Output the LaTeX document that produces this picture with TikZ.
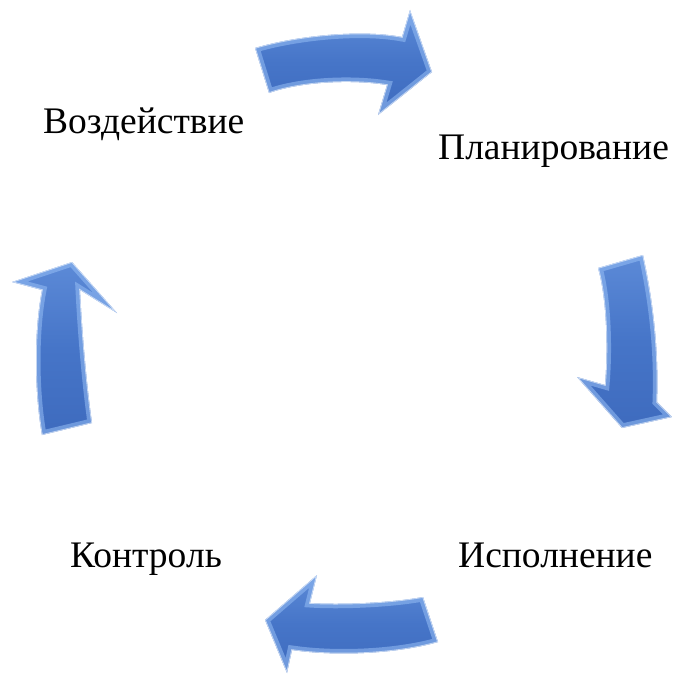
\documentclass[tikz,border=0pt]{standalone}
\usepackage{fontspec}
\setmainfont{Liberation Serif}
\definecolor{arrowmain}{RGB}{70,117,200}
\definecolor{arrowlight}{RGB}{92,138,215}
\definecolor{arrowdark}{RGB}{62,107,190}
\definecolor{bevel}{RGB}{150,190,245}
\tikzset{
  lbl/.style={anchor=base west, inner sep=0pt, font=\fontsize{37.5}{40}\selectfont},
}
\newcommand{\toparrowpath}{(255,48) .. controls (295,36) and (360,29) .. (402,37) -- (410,10) -- (432,72) -- (378,115) -- (387,85) .. controls (350,79) and (300,82) .. (269,93) -- cycle}
\newcommand{\rightarrowpath}{(598,268) -- (643,255) .. controls (653,300) and (659,350) .. (657,402) -- (672,417) -- (622,428) -- (577,377) -- (605,385) .. controls (608,350) and (607,300) .. (598,268) -- cycle}
\newcommand{\bottomarrowpath}{(423,597) -- (438,642) .. controls (400,653) and (340,657) .. (292,650) -- (287,673) -- (265,620) -- (317,575) -- (310,603) .. controls (340,605) and (390,603) .. (423,597) -- cycle}
\newcommand{\leftarrowpath}{(42,435) -- (92,423) .. controls (86,380) and (82,330) .. (80,290) -- (117,313) -- (72,262) -- (12,282) -- (42,290) .. controls (34,330) and (34,390) .. (42,435) -- cycle}
\newcommand{\bevelarrow}[2]{%
  \shade[shading angle=#2, top color=arrowlight, bottom color=arrowdark, middle color=arrowmain] #1;
  \begin{scope}
    \clip #1;
    \draw[bevel, line width=9pt, opacity=0.55, line join=miter] #1;
    \draw[white, line width=1.5pt, opacity=0.6, line join=miter] #1;
  \end{scope}
}
\begin{document}
\begin{tikzpicture}[x=1pt, y=-1pt]
\useasboundingbox (0,0) rectangle (672,677);
\bevelarrow{\toparrowpath}{0}
\bevelarrow{\rightarrowpath}{-90}
\bevelarrow{\bottomarrowpath}{180}
\bevelarrow{\leftarrowpath}{90}
\node[lbl] (vozd) at (43,133) {Воздействие};
\node[lbl] (plan) at (438,159) {Планирование};
\node[lbl] (kontr) at (70,567) {Контроль};
\node[lbl] (isp) at (458,567) {Исполнение};
\end{tikzpicture}
\end{document}
